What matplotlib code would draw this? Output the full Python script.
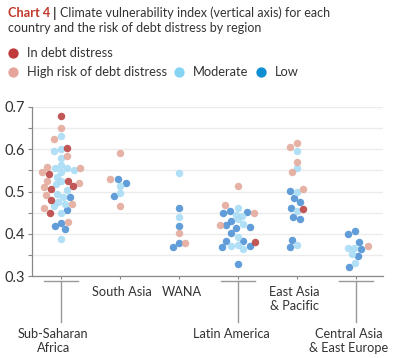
import numpy as np
import matplotlib.pyplot as plt
from matplotlib.transforms import blended_transform_factory

plt.rcParams['font.family'] = ['Lato', 'DejaVu Sans']

regions = ["Sub-Saharan\nAfrica", "South Asia", "WANA", "Latin America",
           "East Asia\n& Pacific", "Central Asia\n& East Europe"]
label_low = [True, False, False, True, False, True]
label_shift = [-0.13, 0.03, 0.05, -0.11, -0.04, -0.12]

risk_names = ["In debt distress", "High risk of debt distress", "Moderate", "Low"]
fill_cols = ["#b9403f", "#e2a899", "#a6dbf5", "#4b90d3"]
legend_cols = ["#c0393b", "#e6a59c", "#87d3f3", "#0e8fd3"]

# region index, risk index (0 distress, 1 high, 2 moderate, 3 low), jitter, index value
region_idx = [0]*46 + [1]*8 + [2]*8 + [3]*27 + [4]*19 + [5]*11
risk = [
    # Sub-Saharan Africa
    3, 3, 3, 3, 3,
    2, 2, 2, 2, 2, 2, 2, 2, 2, 2, 2, 2, 2, 2, 2, 2, 2, 2, 2, 2,
    1, 1, 1, 1, 1, 1, 1, 1, 1, 1, 1, 1, 1,
    0, 0, 0, 0, 0, 0, 0, 0,
    # South Asia
    1, 1, 3, 3, 2, 2, 3, 1,
    # WANA
    2, 3, 2, 3, 1, 3, 1, 3,
    # Latin America
    1, 1, 2, 3, 3, 3, 1, 2, 2, 3, 2, 1, 3, 2, 3, 3, 3, 2, 3, 3, 0, 3, 2, 3, 2, 2, 3,
    # East Asia & Pacific
    1, 1, 2, 1, 2, 1, 3, 2, 1, 3, 3, 3, 2, 0, 3, 3, 3, 3, 2,
    # Central Asia & East Europe
    3, 3, 3, 2, 2, 3, 1, 2, 3, 2, 3,
]
jitter = [
    0.15, 0.11, -0.10, 0.00, 0.07,
    0.00, -0.11, 0.00, 0.00, -0.10, 0.00, 0.11, 0.22, -0.07, 0.00,
    -0.09, 0.00, 0.10, -0.06, 0.03, -0.05, 0.07, -0.11, 0.00, 0.00,
    0.00, -0.11, 0.11, -0.32, -0.23, 0.32, -0.24, 0.31, -0.28, -0.25, 0.19, -0.28, 0.12,
    0.00, 0.11, -0.20, 0.12, 0.21, -0.17, -0.17, -0.19,
    0.00, -0.16, -0.04, 0.11, 0.00, 0.00, -0.10, 0.00,
    0.00, 0.00, 0.00, 0.00, 0.00, 0.00, 0.11, -0.10,
    0.00, -0.22, 0.00, -0.25, -0.13, 0.16, 0.27, -0.04, 0.07, -0.11, 0.00, -0.31, -0.20,
    0.08, 0.21, -0.03, -0.11, 0.00, -0.20, 0.09, 0.29, -0.27, -0.11, 0.20, 0.00, 0.09, 0.00,
    -0.12, 0.00, 0.00, 0.00, 0.00, -0.09, -0.12, 0.00, 0.10, -0.05, 0.05, -0.10, 0.00,
    0.10, -0.06, 0.06, -0.08, -0.11, 0.00,
    -0.13, -0.02, 0.05, -0.14, -0.03, 0.09, 0.20, -0.07, 0.04, -0.02, -0.12,
]
vuln = [
    0.486, 0.457, 0.418, 0.425, 0.412,
    0.632, 0.595, 0.600, 0.580, 0.555, 0.563, 0.555, 0.551, 0.534, 0.547,
    0.518, 0.526, 0.504, 0.495, 0.487, 0.474, 0.471, 0.465, 0.449, 0.388,
    0.651, 0.625, 0.583, 0.546, 0.558, 0.556, 0.526, 0.521, 0.510, 0.492, 0.470, 0.460, 0.427,
    0.678, 0.603, 0.541, 0.525, 0.513, 0.506, 0.479, 0.449,
    0.590, 0.529, 0.530, 0.519, 0.514, 0.497, 0.489, 0.466,
    0.543, 0.462, 0.440, 0.419, 0.401, 0.378, 0.379, 0.369,
    0.513, 0.467, 0.460, 0.450, 0.454, 0.452, 0.449, 0.444, 0.442, 0.431, 0.434, 0.421, 0.420,
    0.423, 0.416, 0.413, 0.401, 0.393, 0.384, 0.384, 0.381, 0.369, 0.371, 0.371, 0.373, 0.363, 0.328,
    0.605, 0.614, 0.597, 0.571, 0.555, 0.545, 0.502, 0.500, 0.506, 0.484, 0.474, 0.462, 0.454,
    0.459, 0.439, 0.436, 0.386, 0.368, 0.373,
    0.399, 0.407, 0.381, 0.366, 0.367, 0.363, 0.371, 0.351, 0.347, 0.330, 0.321,
]

W, H = 396, 358
fig = plt.figure(figsize=(W / 100, H / 100), dpi=100)
ax = fig.add_axes([32 / W, 1 - 276 / H, (383 - 32) / W, (276 - 107) / H])

xs = np.array(region_idx) + np.array(jitter)
for r in [3, 2, 1, 0]:
    m = np.array(risk) == r
    ax.scatter(xs[m], np.array(vuln)[m], s=29, color=fill_cols[r], alpha=0.88,
               linewidths=0, zorder=3)

ax.set_xlim(-0.49, 5.46)
ax.set_ylim(0.3, 0.7)
ax.set_yticks(np.arange(0.3, 0.701, 0.05))
ax.set_yticklabels(["0.3", "", "0.4", "", "0.5", "", "0.6", "", "0.7"])
ax.yaxis.grid(True, color="#ececec", lw=1)
ax.set_axisbelow(True)
ax.set_xticks(range(len(regions)))
ax.set_xticklabels([])
ax.tick_params(axis="y", length=3, width=0.8, color="#888888", labelsize=10.5,
               labelcolor="#333333", pad=2)
ax.tick_params(axis="x", length=2, width=0.8, color="#888888")
for s in ["top", "right"]:
    ax.spines[s].set_visible(False)
for s in ["left", "bottom"]:
    ax.spines[s].set_color("#888888")
    ax.spines[s].set_linewidth(0.9)

# category labels, three of them hanging below a T-shaped leader
tr = blended_transform_factory(ax.transData, fig.transFigure)
for i, name in enumerate(regions):
    if label_low[i]:
        ax.plot([i - 0.29, i + 0.29], [1 - 281 / H] * 2, color="#999999", lw=1,
                transform=tr, clip_on=False)
        ax.plot([i, i], [1 - 281 / H, 1 - 322 / H], color="#999999", lw=1,
                transform=tr, clip_on=False)
        ax.text(i + label_shift[i], 1 - 328 / H, name, transform=tr, ha="center",
                va="top", fontsize=9.2, color="#333333", linespacing=1.2)
    else:
        ax.text(i + label_shift[i], 1 - 286 / H, name, transform=tr, ha="center",
                va="top", fontsize=9.2, color="#333333", linespacing=1.2)

# title and legend in pixel coordinates
ov = fig.add_axes([0, 0, 1, 1], facecolor="none")
ov.set_xlim(0, W)
ov.set_ylim(H, 0)
ov.axis("off")
rend = fig.canvas.get_renderer()


def right_edge(t):
    bb = t.get_window_extent(renderer=rend)
    return bb.x1


t = ov.text(8, 13, "Chart 4", color="#c0392b", fontsize=9.2, fontweight="bold", va="center")
x = right_edge(t) + 3
t = ov.text(x, 13, "|", color="#333333", fontsize=9.8, fontweight="bold", va="center")
x = right_edge(t) + 3
ov.text(x, 13, "Climate vulnerability index (vertical axis) for each",
        color="#333333", fontsize=9.0, va="center")
ov.text(8, 28, "country and the risk of debt distress by region",
        color="#333333", fontsize=9.0, va="center")

ov.scatter([13], [53], s=55, color=legend_cols[0], linewidths=0)
ov.text(27, 53, risk_names[0], color="#333333", fontsize=9.3, va="center")
x = 13
for k in [1, 2, 3]:
    ov.scatter([x], [72], s=55, color=legend_cols[k], linewidths=0)
    t = ov.text(x + 14, 72, risk_names[k], color="#333333", fontsize=9.3, va="center")
    x = right_edge(t) + 12

fig.savefig("out.png", dpi=100)
